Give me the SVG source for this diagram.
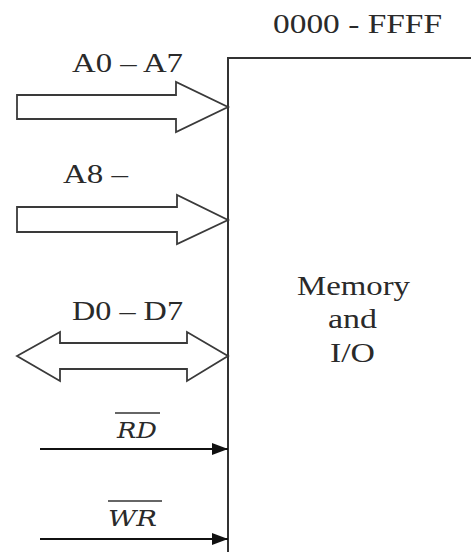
<svg xmlns="http://www.w3.org/2000/svg" width="471" height="552" viewBox="0 0 471 552">
<style>
.lbl{font-family:"Liberation Serif","Times New Roman",serif;font-size:27px;fill:#2a2a2a}
.sig{font-family:"DejaVu Serif","Liberation Serif",serif;font-style:italic;font-size:22px;fill:#2a2a2a}
.bus{fill:#fff;stroke:#3a3a3a;stroke-width:1.8;stroke-linejoin:miter}
.wire{stroke:#111;stroke-width:2;fill:none}
.bar{stroke:#333;stroke-width:1.5}
.box{fill:none;stroke:#333;stroke-width:2}
</style>
<defs>
<marker id="ah" markerWidth="16" markerHeight="12" refX="16" refY="6" orient="auto" markerUnits="userSpaceOnUse">
<path d="M0,0 L16,6 L0,12 Z" fill="#111"/>
</marker>
</defs>
<g id="memory">
<path class="box" d="M471,58 H228 V552"/>
<text class="lbl" x="273" y="33" textLength="169" lengthAdjust="spacingAndGlyphs">0000 - FFFF</text>
<text class="lbl" x="297" y="295" textLength="113" lengthAdjust="spacingAndGlyphs">Memory</text>
<text class="lbl" x="328" y="328" textLength="49" lengthAdjust="spacingAndGlyphs">and</text>
<text class="lbl" x="330" y="362" textLength="45" lengthAdjust="spacingAndGlyphs">I/O</text>
</g>
<g id="connectors">
<g id="a0a7">
<path class="bus" d="M17,95 H176 V82 L228,107 L176,132 V119 H17 Z"/>
<text class="lbl" x="72" y="72" textLength="111" lengthAdjust="spacingAndGlyphs">A0 – A7</text>
</g>
<g id="a8">
<path class="bus" d="M17,207 H177 V195 L228,220 L177,244 V232 H17 Z"/>
<text class="lbl" x="63" y="183" textLength="65" lengthAdjust="spacingAndGlyphs">A8 –</text>
</g>
<g id="d0d7">
<path class="bus" d="M17,356 L60,332 V343 H187 V332 L228,356 L187,381 V369 H60 V381 Z"/>
<text class="lbl" x="72" y="320" textLength="111" lengthAdjust="spacingAndGlyphs">D0 – D7</text>
</g>
<g id="rd">
<line class="wire" x1="40" y1="449" x2="228" y2="449" marker-end="url(#ah)"/>
<text class="sig" x="117" y="438" textLength="40" lengthAdjust="spacingAndGlyphs">RD</text>
<line class="bar" x1="115" y1="413" x2="160" y2="413"/>
</g>
<g id="wr">
<line class="wire" x1="40" y1="539" x2="228" y2="539" marker-end="url(#ah)"/>
<text class="sig" x="108" y="526" textLength="49" lengthAdjust="spacingAndGlyphs">WR</text>
<line class="bar" x1="108" y1="501" x2="162" y2="501"/>
</g>
</g>
</svg>
